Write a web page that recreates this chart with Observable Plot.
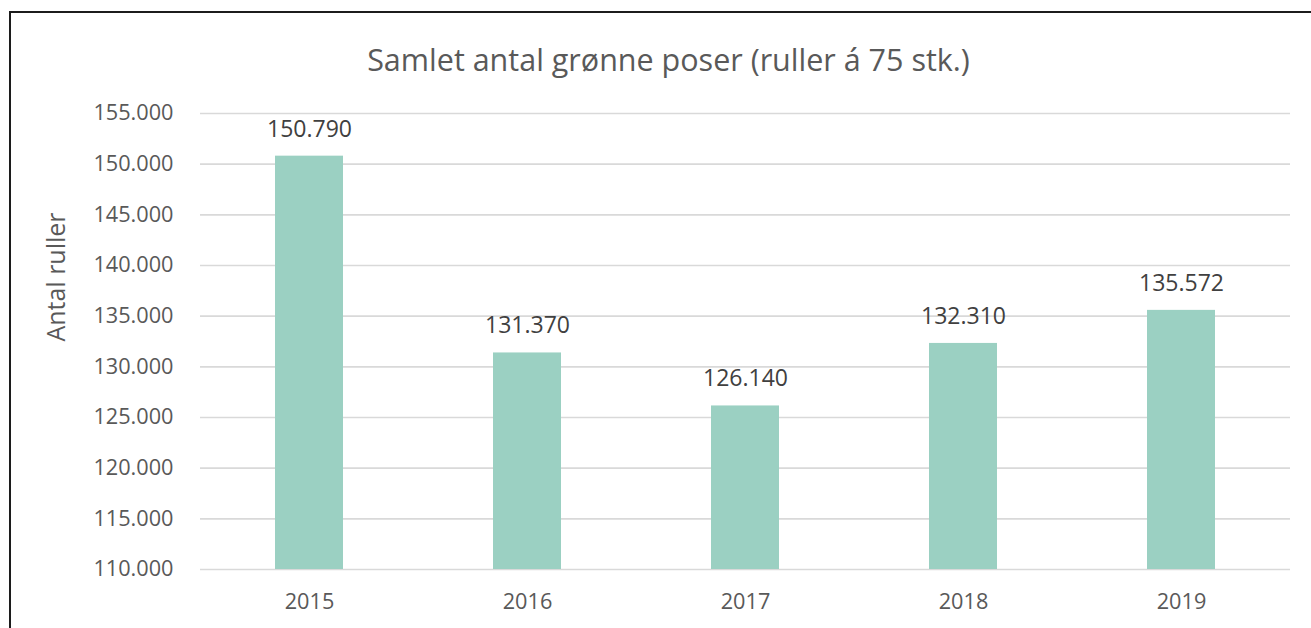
<!DOCTYPE html>
<html>
<head>
<meta charset="utf-8">
<script src="https://cdn.jsdelivr.net/npm/d3@7"></script>
<script src="https://cdn.jsdelivr.net/npm/@observablehq/plot@0.6"></script>
<style>
  html, body { margin: 0; padding: 0; background: #fff; overflow: hidden; }
  #wrap { position: relative; width: 1311px; height: 628px; overflow: hidden; background: #fff; font-family: "Open Sans", sans-serif; }
  #topline { position: absolute; left: 9px; top: 11px; width: 1302px; height: 2px; background: #1c1c1c; }
  #leftline { position: absolute; left: 9px; top: 11px; width: 2px; height: 617px; background: #1c1c1c; }
  #title { position: absolute; top: 39px; left: 26px; width: 1285px; text-align: center; font-size: 30.5px; color: #595959; line-height: 40px; white-space: nowrap; }
  #ylabel { position: absolute; left: 55px; top: 277px; transform: translate(-50%, -50%) rotate(-90deg); font-size: 25px; color: #595959; white-space: nowrap; }
  #chart { position: absolute; left: 0; top: 90px; }
</style>
</head>
<body>
<div id="wrap">
  <div id="topline"></div>
  <div id="leftline"></div>
  <div id="title"></div>
  <div id="ylabel"></div>
  <div id="chart"></div>
</div>
<script>
const titleText = "Samlet antal grønne poser (ruller á 75 stk.)";
const yLabelText = "Antal ruller";
const years = ["2015", "2016", "2017", "2018", "2019"];
const values = [150790, 131370, 126140, 132310, 135572];
const yTicks = [110000, 115000, 120000, 125000, 130000, 135000, 140000, 145000, 150000, 155000];

const fmt = d3.formatLocale({decimal: ",", thousands: ".", grouping: [3], currency: ["", " kr."]}).format(",d");
const data = years.map((year, i) => ({year, value: values[i], base: yTicks[0]}));

document.getElementById("title").textContent = titleText;
document.getElementById("ylabel").textContent = yLabelText;

const chart = Plot.plot({
  width: 1311,
  height: 538,
  marginTop: 23,
  marginBottom: 59,
  marginLeft: 200,
  marginRight: 21,
  style: {fontFamily: "Open Sans, sans-serif", color: "#595959", background: "transparent"},
  x: {domain: years, paddingInner: 0.69, paddingOuter: 0.345, label: null},
  y: {domain: [yTicks[0], yTicks[yTicks.length - 1]], label: null},
  marks: [
    Plot.gridY(yTicks, {stroke: "#d9d9d9", strokeOpacity: 1, strokeWidth: 1.6}),
    Plot.barY(data, {x: "year", y1: "base", y2: "value", fill: "#9bd0c2"}),
    Plot.text(data, {x: "year", y: "value", text: d => fmt(d.value), dy: -27, fontSize: 23, fill: "#404040"}),
    Plot.axisY(yTicks, {tickSize: 0, tickPadding: 27, tickFormat: fmt, fontSize: 21.7, fill: "#595959", label: null}),
    Plot.axisX({tickSize: 0, tickPadding: 24, fontSize: 21.7, fill: "#595959", label: null})
  ]
});
document.getElementById("chart").appendChild(chart);
</script>
</body>
</html>
